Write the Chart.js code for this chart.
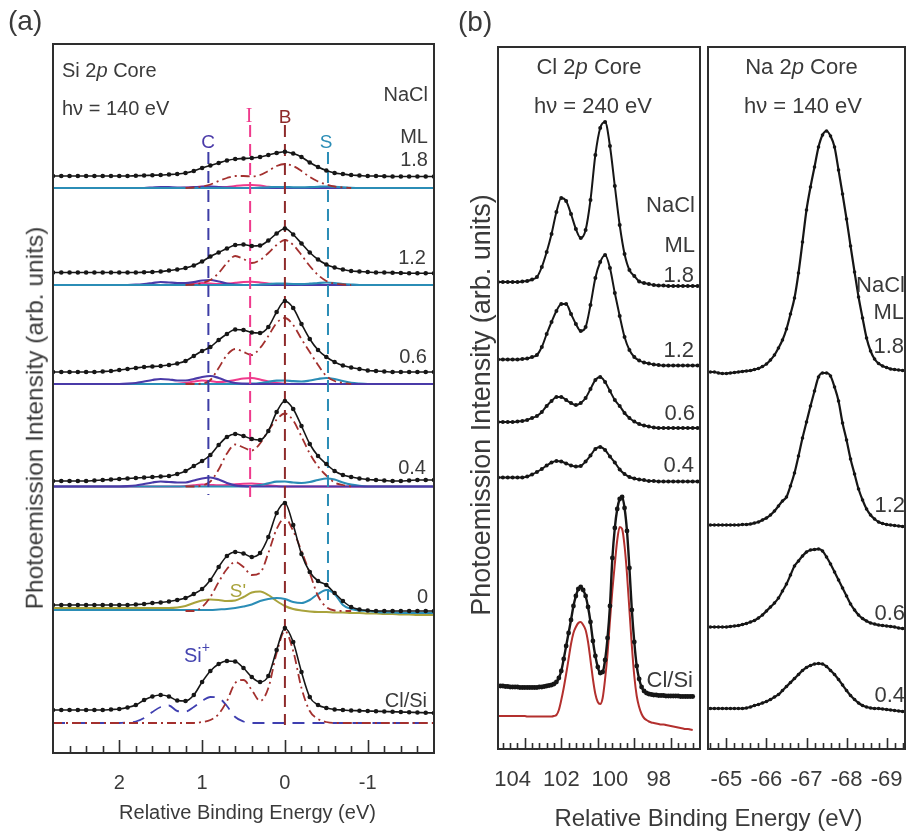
<!DOCTYPE html>
<html><head><meta charset="utf-8">
<script src="https://cdn.jsdelivr.net/npm/chart.js@4.4.0/dist/chart.umd.min.js"></script>
<style>
html,body{margin:0;padding:0;background:#fff;}
#wrap{position:relative;width:909px;height:836px;overflow:hidden;font-family:"Liberation Sans",Arial,sans-serif;color:#3a3a3a;}
canvas{position:absolute;top:0;}
.t{position:absolute;line-height:1;white-space:nowrap;z-index:2;}
.L{transform:translate(0,-50%);}
.R{transform:translate(-100%,-50%);}
.C{transform:translate(-50%,-50%);}
.V{transform:translate(-50%,-50%) rotate(-90deg);}
.a{font-size:20px;}
.b{font-size:22px;}
</style></head><body>
<div id="wrap">
<canvas id="cA" width="450" height="836" style="left:0"></canvas>
<canvas id="cCl" width="254" height="836" style="left:450px"></canvas>
<canvas id="cNa" width="205" height="836" style="left:704px"></canvas>

<div class="t L" style="left:8px;top:21px;font-size:28px">(a)</div>
<div class="t V" style="left:35px;top:418px;font-size:24.5px">Photoemission Intensity (arb. units)</div>
<div class="t C" style="left:247.5px;top:812px;font-size:20px">Relative Binding Energy (eV)</div>
<div class="t L a" style="left:62px;top:69.5px">Si 2<i>p</i> Core</div>
<div class="t L a" style="left:62px;top:107.5px">hν = 140 eV</div>
<div class="t R a" style="left:428px;top:93.5px">NaCl</div>
<div class="t R a" style="left:428px;top:136px">ML</div>
<div class="t R a" style="left:428px;top:158.5px">1.8</div>
<div class="t R a" style="left:426px;top:256.5px">1.2</div>
<div class="t R a" style="left:427px;top:356px">0.6</div>
<div class="t R a" style="left:426px;top:466.5px">0.4</div>
<div class="t R a" style="left:428px;top:596px">0</div>
<div class="t R a" style="left:427px;top:700px">Cl/Si</div>
<div class="t C" style="left:208px;top:141px;font-size:19px;color:#4a3aa8">C</div>
<div class="t C" style="left:249px;top:115px;font-size:20px;color:#ef3a8c;font-family:'Liberation Serif',serif">I</div>
<div class="t C" style="left:285px;top:116px;font-size:19px;color:#8e2b2b">B</div>
<div class="t C" style="left:326px;top:141px;font-size:19px;color:#2b8db6">S</div>
<div class="t C" style="left:238px;top:590px;font-size:19px;color:#a9a33c">S'</div>
<div class="t C" style="left:197px;top:655px;font-size:20px;color:#4545b0">Si<span style="position:relative;top:-10px;font-size:14px">+</span></div>

<div class="t L" style="left:458px;top:21.5px;font-size:28px">(b)</div>
<div class="t V" style="left:481px;top:405px;font-size:27px">Photoemission Intensity (arb. units)</div>
<div class="t C b" style="left:589px;top:66.7px">Cl 2<i>p</i> Core</div>
<div class="t C b" style="left:593px;top:106px">hν = 240 eV</div>
<div class="t C b" style="left:801.5px;top:66.7px">Na 2<i>p</i> Core</div>
<div class="t C b" style="left:803px;top:106px">hν = 140 eV</div>
<div class="t R b" style="left:695px;top:204.5px">NaCl</div>
<div class="t R b" style="left:695px;top:245px">ML</div>
<div class="t R b" style="left:694px;top:274.5px">1.8</div>
<div class="t R b" style="left:694px;top:349.5px">1.2</div>
<div class="t R b" style="left:695px;top:412.5px">0.6</div>
<div class="t R b" style="left:694px;top:464.5px">0.4</div>
<div class="t R b" style="left:693px;top:679.5px">Cl/Si</div>
<div class="t R b" style="left:905px;top:285px">NaCl</div>
<div class="t R b" style="left:904px;top:311.5px">ML</div>
<div class="t R b" style="left:904px;top:345.5px">1.8</div>
<div class="t R b" style="left:905px;top:504.5px">1.2</div>
<div class="t R b" style="left:905px;top:612.5px">0.6</div>
<div class="t R b" style="left:905px;top:694.5px">0.4</div>
<div class="t C" style="left:708.5px;top:818px;font-size:24px">Relative Binding Energy (eV)</div>
</div>
<script>
// ---------- Panel (a): Si 2p core ----------
const siE = [2.8,2.7,2.6,2.5,2.4,2.3,2.2,2.1,2.0,1.9,1.8,1.7,1.6,1.5,1.4,1.3,1.2,1.1,1.0,0.9,0.8,0.7,0.6,0.5,0.4,0.3,0.2,0.1,0.0,-0.1,-0.2,-0.3,-0.4,-0.5,-0.6,-0.7,-0.8,-0.9,-1.0,-1.1,-1.2,-1.3,-1.4,-1.5,-1.6,-1.7,-1.8];
const siSeries = ['1.8','1.2','0.6','0.4','0','Cl/Si'];
const siDataBase = [577, 480.5, 381, 272, 146, 43];
const siCompBase = [565, 468, 369, 266.5, 142, 30];
const si18 = [0,0,0,0,0,0,0,0,0,0, 0.3,0.5,0.8,1,1.5,2,3,5,8,10.5, 13,15.5,17,17.5,18,19,21,23,24.3,22.5, 19,13.5,9,5.5,3,2,1,0.5,0,0, -0.3,-0.5,-0.5,-0.5,-0.5,-0.5,-0.5];
const si12 = [0,0,0,0,0,0,0,0,0,0, 0,0.3,0.5,1,2,3,4.5,7,11,16, 20,24,27.5,28,26.5,27,32,39,44,38, 29,20,13,8,5,3,1.5,1,0.5,0, 0,-0.3,-0.5,-0.8,-0.8,-0.8,-0.8];
const si06 = [0,0,0,0,0,0,0.5,1,2,3, 4,5,5.5,6,7,8.5,11,16,21,25, 32,38,42.5,42,39.5,39,45,60,71,64, 48,33,22,15,10,6.5,4.5,3,1.5,1, 0.5,0,0,0,0,0,0];
const si04 = [0,0,0,0,0,0.5,1,1.5,2,2.5, 3,3.5,4,4.5,5,7,10,15,20,26, 36,44,47,45,42,41,50,69,80,72, 55,37,25,17,10,6,4,2.5,1.5,1, 0.5,0,0,0.5,1,1,1];
const si00 = [2,2,2,2,2,2,2,2,2,2, 2.5,3,4,4.5,5.5,7,9,13,18,27, 40,51,55,53.5,50,54,70,94,104,82, 53,35,26,22,14,6,0,-2.5,-3.5,-4, -4,-4,-4,-4,-4,-4,-4];
const siCl = [0,0,0,0,0,0,0,0.5,1,2.5, 5,10,13.5,15,13.5,9.5,9,15,28,39, 46,49,48.5,42,33,28,34,60,82,68, 38,13,5,2,0.5,0,-0.5,-0.7,-1,-1.2, -1.5,-1.7,-2,-2.2,-2.5,-2.7,-3];
// B (bulk) doublet components
const bE = [1.2,1.1,1.0,0.9,0.8,0.7,0.6,0.5,0.4,0.3,0.2,0.1,0.0,-0.1,-0.2,-0.3,-0.4,-0.5,-0.6,-0.7,-0.8];
const b18 = [0,0.5,1.5,3.5,7,10,12,12,11.5,13,17,22,24,22,17,11,6.5,3.5,1.5,0.5,0];
const b12 = [0,0.5,2,5,12,22,29,26,22,25,32,40,45,40,30,19,10,4,1.5,0.5,0];
const b06 = [0,0,0.5,4,16,29,35,32,29,36,48,61,66,59,45,32,19,8,3,1,0];
const b04 = [0,0,1,5,17,33,42,39,36,43,56,67,73,66,50,33,20,11,4,1.5,0];
const b00 = [0,0,4,14,29,42,49,44,36,38,58,82,93,80,60,38,15,4,0.5,0,0];
const bCl = [0,0,0,0,0,0,0,0,0,0, 0,0,0,0,0,0,0,0,1,3, 9,22,40,43,33,22,35,70,92,72, 35,12,4,1,0,0,0,0,0,0, 0,0,0,0,0,0,0];
const siPlus = [0,0,0,0,0,0,0,0,0,0.5, 1.5,5,11,16,17.5,12,11.5,16,22,26, 25,17,6,1.5,0,0,0,0,0,0, 0,0,0,0,0,0,0,0,0,0, 0,0,0,0,0,0,0];
// small surface components C, I, S
const c18 = [0,0,0,0,0,0,0,0,0,0, 0,0,0.5,1,0.8,0.5,0.5,0.8,1.2,1.5, 1,0.5,0,0,0,0,0,0,0,0, 0,0,0,0,0,0,0,0,0,0, 0,0,0,0,0,0,0];
const i18 = [0,0,0,0,0,0,0,0,0,0, 0,0,0,0,0,0,0.3,0.8,1.5,1.2, 0.8,1,2,2.8,3,2.5,1.2,0.5,0,0, 0,0,0,0,0,0,0,0,0,0, 0,0,0,0,0,0,0];
const s18 = [0,0,0,0,0,0,0,0,0,0, 0,0,0,0,0,0,0,0,0,0, 0,0,0,0,0,0.3,0.7,1,0.9,0.7, 0.6,0.8,1.2,1.5,1.2,0.6,0.2,0,0,0, 0,0,0,0,0,0,0];
const c12 = [0,0,0,0,0,0,0,0,0,0, 0.3,1,2,3,2.5,2,2,3,4.5,5, 3.5,1.5,0.5,0,0,0,0,0,0,0, 0,0,0,0,0,0,0,0,0,0, 0,0,0,0,0,0,0];
const i12 = [0,0,0,0,0,0,0,0,0,0, 0,0,0,0,0,0,0.5,1.2,2,1.5, 1,1.2,2.2,3,3.3,2.6,1.4,0.5,0,0, 0,0,0,0,0,0,0,0,0,0, 0,0,0,0,0,0,0];
const s12 = [0,0,0,0,0,0,0,0,0,0, 0,0,0,0,0,0,0,0,0,0, 0,0,0,0,0,0.3,0.8,1.5,1.3,1, 0.9,1.3,2,2.5,2,1,0.4,0,0,0, 0,0,0,0,0,0,0];
const c06 = [0,0,0,0,0,0,0,0,0,0.3, 1,2.5,4,5,4.5,3.5,3.5,5,7,8, 6,3,1,0.3,0,0,0,0,0,0, 0,0,0,0,0,0,0,0,0,0, 0,0,0,0,0,0,0];
const i06 = [0,0,0,0,0,0,0,0,0,0, 0,0,0,0,0,0.3,1,2.5,3.5,3, 2,2.5,4,5.5,6,4.5,2.5,1,0.3,0, 0,0,0,0,0,0,0,0,0,0, 0,0,0,0,0,0,0];
const s06 = [0,0,0,0,0,0,0,0,0,0, 0,0,0,0,0,0,0,0,0,0, 0,0,0,0,0.3,1,2.2,3.3,3.5,2.8, 2.5,3.5,5,6,5,3,1.2,0.4,0,0, 0,0,0,0,0,0,0];
const c04 = [0,0,0,0,0,0,0,0,0,0.3, 1,2.5,4,5,4.5,4,4,6,8,9, 7,3.5,1.2,0.3,0,0,0,0,0,0, 0,0,0,0,0,0,0,0,0,0, 0,0,0,0,0,0,0];
const i04 = [0,0,0,0,0,0,0,0,0,0, 0,0,0,0,0,0,0.5,1.2,2,1.6, 1.2,1.4,2.2,2.8,3,2.4,1.3,0.5,0,0, 0,0,0,0,0,0,0,0,0,0, 0,0,0,0,0,0,0];
const s04 = [0,0,0,0,0,0,0,0,0,0, 0,0,0,0,0,0,0,0,0,0, 0,0,0,0,0.5,1.5,3.2,4.8,5,4, 3.5,4.5,6.5,8,7,4,1.8,0.6,0,0, 0,0,0,0,0,0,0];
const s00 = [1,1,1,1,1,1,1,1,1,1, 1,1,1,1,1,1,1,1,1,1, 1.5,2,3,4.5,6.5,10,12,13,12,9, 8,11,17,21,17,6,2,0.5,0,-1, -1.5,-1.5,-2,-2,-2,-2,-2];
const sp00 = [3,3,3,3,3,3,3,3,3,3, 3,3,3,3,3,3.5,5,8,10.5,11.5, 11,10,10.5,14,18.5,19.5,16,10,5,2, 0.5,-0.5,-1,-1,-1.5,-1.5,-2,-2,-2.5,-2.5, -3,-3,-3.5,-3.5,-4,-4,-4];
// component marker lines C, I, B, S
const markE = [0.924, 0.42, 0, -0.52];
const markTop = [601, 628, 628, 601];
const markBottom = [258, 256, 28, 153];
const siTicks = [2.6,2.4,2.2,2.0,1.8,1.6,1.4,1.2,1.0,0.8,0.6,0.4,0.2,0,-0.2,-0.4,-0.6,-0.8,-1.0,-1.2,-1.4,-1.6];
const siMajor = [2,1,0,-1];
const siLabels = [2,1,0,-1];

// ---------- Panel (b): Cl 2p core ----------
const clE = [104.6,104.4,104.2,104.0,103.8,103.6,103.4,103.2,103.0,102.8,102.6,102.4,102.2,102.0,101.8,101.6,101.4,101.2,101.0,100.8,100.6,100.4,100.2,100.0,99.8,99.6,99.4,99.2,99.0,98.8,98.6,98.4,98.2,98.0,97.8,97.6,97.4,97.2,97.0,96.8,96.6,96.4];
const clBase = [466, 389, 327, 271.5];
const cl18 = [1,1,1,1,1,1.5,2,3.5,6,16, 31,49,71,85,82,69,54,45,53,83, 128,155,161,137,97,58,29,13,7,1.5, 0,-1,-2,-2.5,-2.5,-3,-3,-3,-3,-3, -3,-3];
const cl12 = [0.5,0.5,0.5,0.5,0.5,1,1.5,3,5,13, 26,38,49,56,56,46,36,29,33,55, 82,98,105,92,67,44,23,10,3,-0.5, -2.5,-3.5,-4.5,-5,-5.5,-5.5,-5.5,-5.5,-5.5,-5.5, -5.5,-5.5];
const cl06 = [0,0,0,0,0.5,1,2,4,6,10, 16,21,25,25,22,19,17,19,24,33, 42,45,40,31,22,16,9,4,0.5,-2, -3.5,-4.5,-5.5,-6,-6,-6,-6,-6,-6,-6, -6,-6];
const cl04 = [0,0,0,0,0,0,1,3,5.5,8.5, 12,15,16.5,16,14,12,11,11.5,16,22, 28.5,30.5,27.5,21,15,8,3.5,0.5,-1,-2, -2.5,-3.5,-3.5,-4,-4,-4,-4,-4,-4,-4, -4,-4];
const clSiE = [104.6,104.5,104.4,104.3,104.2,104.1,104.0,103.9,103.8,103.7,
  103.6,103.5,103.4,103.3,103.2,103.1,103.0,102.9,102.8,102.7,
  102.6,102.5,102.4,102.3,102.2,102.1,102.0,101.9,101.8,101.7,
  101.6,101.5,101.4,101.3,101.2,101.1,101.0,100.9,100.8,100.7,
  100.6,100.5,100.4,100.3,100.2,100.1,100.0,99.9,99.8,99.7,
  99.6,99.5,99.4,99.3,99.2,99.1,99.0,98.9,98.8,98.7,
  98.6,98.5,98.4,98.3,98.2,98.1,98.0,97.9,97.8,97.7,
  97.6,97.5,97.4,97.3,97.2,97.1,97.0,96.9,96.8,96.7,96.6];
const clSiBase = 63, clFitBase = 33;
const clSiData = [0,0,0,-0.5,-0.5,-1,-1,-1,-1,-1.5,
  -1.5,-1.5,-1.5,-1.5,-1.5,-1.5,-1.5,-1,-1,-0.5,
  0,0.5,1,2,4,8,15,27,40,53,
  66,80,90,97,99,96,90,79,64,45,
  30,19,13,14,26,48,80,128,158,177,
  187,189,178,155,118,76,44,20,7,-1,
  -5,-7,-8,-8.5,-9,-9,-9.5,-9.5,-9.5,-10,
  -10,-10,-10,-10,-10,-10.5,-10.5,-10.5,-10.5,-10.5,-10.5];
const clSiFit = [0,0,0,0,0,0,0,0,0,0,
  0,0,-0.5,-0.5,-0.5,-0.5,-0.5,-0.5,-0.5,-0.5,
  -0.5,-0.5,-0.5,0,1,6,16,28,42,57,
  72,83,89,93,94,91,86,74,56,37,
  22,14,12,18,37,62,95,126,152,176,
  189,187,170,142,106,70,40,20,9,2,
  -2,-4,-5.5,-6.5,-7,-7.5,-8,-8.5,-8.5,-9,
  -9.5,-10,-10.5,-11,-11.5,-12,-12.5,-13,-13,-13.5,-14];
const clTicks = [104.4,104.1,103.8,103.5,103.2,102.9,102.6,102.3,102.0,101.7,101.4,101.1,100.8,100.5,100.2,99.9,99.6,99.3,99.0,98.7,98.4,98.1,97.8,97.5,97.2,96.9,96.6];
const clMajor = [103.5,102.0,100.5,99.0,97.5];
const clLabels = [104,102,100,98];

// ---------- Panel (b): Na 2p core ----------
const naE = [-64.5,-64.6,-64.7,-64.8,-64.9,-65.0,-65.1,-65.2,-65.3,-65.4,
  -65.5,-65.6,-65.7,-65.8,-65.9,-66.0,-66.1,-66.2,-66.3,-66.4,
  -66.5,-66.6,-66.7,-66.8,-66.9,-67.0,-67.1,-67.2,-67.3,-67.4,
  -67.5,-67.6,-67.7,-67.8,-67.9,-68.0,-68.1,-68.2,-68.3,-68.4,
  -68.5,-68.6,-68.7,-68.8,-68.9,-69.0,-69.1,-69.2,-69.3,-69.4,-69.5];
const naBase = [377, 224, 122, 40.5];
const na18 = [0,0,0,-1,-1.5,-1.5,-1,-0.5,0,0.5, 1,1.5,2.5,3.5,5.5,8,12,17,24,32, 43,58,74,99,130,162,185,205,225,237, 241,236,225,202,178,153,126,100,75,54, 34,21,13,8.5,6,4.5,3,2.5,2,1.5, 1];
const na12 = [0,0,0,0,0,0,0,0,0,0.5, 0.5,1,2,3,5,7,10,14,19,24, 28,39,52,69,87,103,119,134,148,152, 152,149,138,124,102,85,66,51,36,25, 16,10,6,3,1.5,0.5,0,-0.5,-1,-1.5, -1.5];
const na06 = [0,0,0,0,0,0,0.5,1,1.5,2.5, 3.5,5,6.5,9,12,16,20,24,29,36, 43,52,61,66,71,75,77,77.5,78,76, 70,63,55,47,39,31,23,17,12,8.5, 6,4,3,2,1.5,1,0.5,0,-1,-1.5, -2];
const na04 = [0,0,0,0,0,0,0,0,0,0, 0.5,1.5,3,4,5.5,7,9,11.5,14,18, 22,26,30,34,38,41,43,44.5,45,44.5, 42,38,34,29,23.5,18,13,9,5.5,3, 1.5,0.5,0,0,-0.5,-1,-1.5,-2,-2.5,-3, -3];
const naTicks = [-64.6,-64.8,-65.0,-65.2,-65.4,-65.6,-65.8,-66.0,-66.2,-66.4,-66.6,-66.8,-67.0,-67.2,-67.4,-67.6,-67.8,-68.0,-68.2,-68.4,-68.6,-68.8,-69.0,-69.2,-69.4];
const naMajor = [-65,-66,-67,-68,-69];
const naLabels = [-65,-66,-67,-68,-69];

// ---------- drawing ----------
const FONT = "'Liberation Sans', Arial, sans-serif";
const INK = '#3a3a3a';
Chart.defaults.font.family = FONT;
Chart.defaults.color = INK;

const BLACK = '#161616', BRED = '#a3302e', MAG = '#ef3a8c', CBLUE = '#4a3aa8', TEAL = '#2b8db6', OLIVE = '#a9a33c', SIPLUS = '#3f3fb0';
const markColors = ['#3d3da6', MAG, '#8e2b2b', TEAL];
const DASHDOT = [9,4,2,4];

function mk(grid, vals, base, style) {
  return Object.assign({}, style, {
    data: grid.map((x, i) => ({x: x, y: vals[i] == null ? null : base + vals[i]}))
  });
}
function curve(color, width, dash, order) {
  return {borderColor: color, borderWidth: width, borderDash: dash || [], pointRadius: 0,
          cubicInterpolationMode: 'monotone', order: order, fill: false};
}
function dots(width, radius) {
  return {borderColor: BLACK, borderWidth: width, pointRadius: radius, pointBackgroundColor: BLACK,
          pointBorderWidth: 0, cubicInterpolationMode: 'monotone', order: 0, fill: false};
}
function frame(marks, major, minorLen, majorLen, lw) {
  return {
    id: 'frame',
    afterDraw(chart) {
      const ctx = chart.ctx, a = chart.chartArea, x = chart.scales.x;
      ctx.save();
      ctx.strokeStyle = '#2e2e2e';
      ctx.lineWidth = 1.6;
      ctx.beginPath();
      marks.forEach(v => {
        const isMaj = major.some(m => Math.abs(m - v) < 1e-9);
        const px = Math.round(x.getPixelForValue(v)) + 0.5;
        ctx.moveTo(px, a.bottom);
        ctx.lineTo(px, a.bottom - (isMaj ? majorLen : minorLen));
      });
      ctx.stroke();
      ctx.lineWidth = lw;
      ctx.strokeRect(a.left, a.top, a.right - a.left, a.bottom - a.top);
      ctx.restore();
    }
  };
}
function xScale(min, max, marks, labels, size, pad) {
  const all = Array.from(new Set(marks.concat(labels))).sort((p, q) => p - q);
  return {
    type: 'linear', min: min, max: max, reverse: true,
    afterBuildTicks: s => { s.ticks = all.map(v => ({value: v})); },
    ticks: {autoSkip: false, maxRotation: 0, minRotation: 0, padding: pad, color: INK, font: {size: size},
      callback: v => labels.some(l => Math.abs(l - v) < 1e-9) ? String(v) : ''},
    grid: {display: false, drawTicks: false, tickLength: 0}, border: {display: false},
    title: {display: false}
  };
}
function yScale(max) {
  return {type: 'linear', min: 0, max: max, display: false};
}
const common = {responsive: false, animation: false, events: [],
  plugins: {legend: {display: false}, tooltip: {enabled: false}}};

// Panel (a)
const dsA = [];
const siData = [si18, si12, si06, si04, si00, siCl];
siData.forEach((v, k) => dsA.push(mk(siE, v, siDataBase[k], dots(1.6, 2.3))));
[b18, b12, b06, b04, b00].forEach((v, k) => dsA.push(mk(bE, v, siCompBase[k], curve(BRED, 1.8, DASHDOT, 2))));
dsA.push(mk(siE, bCl, siCompBase[5], curve(BRED, 1.8, DASHDOT, 2)));
dsA.push(mk(siE, siPlus, siCompBase[5], curve(SIPLUS, 1.8, [12, 8], 2)));
[[c18, i18, s18], [c12, i12, s12], [c06, i06, s06], [c04, i04, s04]].forEach((g, k) => {
  dsA.push(mk(siE, g[1], siCompBase[k], curve(MAG, 2, null, 5)));
  dsA.push(mk(siE, g[0], siCompBase[k], curve(CBLUE, 2.2, null, k < 2 ? 4 : 3)));
  dsA.push(mk(siE, g[2], siCompBase[k], curve(TEAL, 2.2, null, k < 2 ? 3 : 4)));
});
dsA.push(mk(siE, sp00, siCompBase[4], curve(OLIVE, 2, null, 4)));
dsA.push(mk(siE, s00, siCompBase[4], curve(TEAL, 2, null, 3)));
markE.forEach((e, j) => dsA.push({
  data: [{x: e, y: markTop[j]}, {x: e, y: markBottom[j]}],
  borderColor: markColors[j], borderWidth: 2, borderDash: [12, 7], pointRadius: 0, order: 1
}));

new Chart(document.getElementById('cA'), {
  type: 'line',
  data: {datasets: dsA},
  options: Object.assign({}, common, {
    layout: {padding: {left: 53, right: 16, top: 44, bottom: 23}},
    scales: {x: xScale(-1.8, 2.8, siTicks, siLabels, 20, 18), y: yScale(709)}
  }),
  plugins: [frame(siTicks, siMajor, 7, 13, 2)]
});

// Panel (b) Cl
const dsCl = [];
[cl18, cl12, cl06, cl04].forEach((v, k) => dsCl.push(mk(clE, v, clBase[k], dots(2, 2))));
dsCl.push(mk(clSiE, clSiData, clSiBase, dots(2.4, 2.4)));
dsCl.push(mk(clSiE, clSiFit, clFitBase, curve('#b3302e', 2, null, 1)));
new Chart(document.getElementById('cCl'), {
  type: 'line',
  data: {datasets: dsCl},
  options: Object.assign({}, common, {
    layout: {padding: {left: 48, right: 2, top: 47, bottom: 25}},
    scales: {x: xScale(96.3, 104.6, clTicks, clLabels, 22, 17.8), y: yScale(702)}
  }),
  plugins: [frame(clTicks, clMajor, 6, 11, 2)]
});

// Panel (b) Na
const dsNa = [];
[na18, na12, na06, na04].forEach((v, k) => dsNa.push(mk(naE, v, naBase[k], dots(2.2, 1.8))));
new Chart(document.getElementById('cNa'), {
  type: 'line',
  data: {datasets: dsNa},
  options: Object.assign({}, common, {
    layout: {padding: {left: 2, right: 2, top: 47, bottom: 25}},
    scales: {x: xScale(-69.46, -64.54, naTicks, naLabels, 22, 17.8), y: yScale(702)}
  }),
  plugins: [frame(naTicks, naMajor, 6, 11, 2)]
});
</script>
</body></html>
